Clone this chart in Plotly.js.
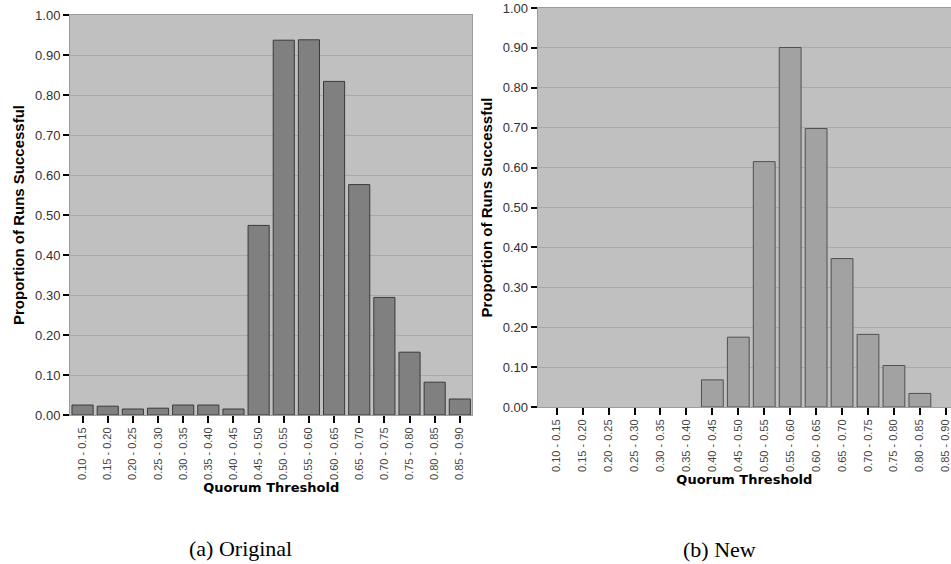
<!DOCTYPE html>
<html>
<head>
<meta charset="utf-8">
<script src="https://cdn.plot.ly/plotly-3.0.1.min.js"></script>
<style>html,body{margin:0;padding:0;background:#fff;}#chart{width:951px;height:564px;}</style>
</head>
<body>
<div id="chart"></div>
<script>
// Data
const categories = ["0.10 - 0.15","0.15 - 0.20","0.20 - 0.25","0.25 - 0.30","0.30 - 0.35","0.35 - 0.40","0.40 - 0.45","0.45 - 0.50","0.50 - 0.55","0.55 - 0.60","0.60 - 0.65","0.65 - 0.70","0.70 - 0.75","0.75 - 0.80","0.80 - 0.85","0.85 - 0.90"];
const originalValues = [0.025,0.022,0.015,0.017,0.025,0.025,0.015,0.474,0.937,0.938,0.834,0.576,0.294,0.157,0.082,0.040];
const newValues = [0,0,0,0,0,0,0.068,0.175,0.615,0.901,0.698,0.372,0.182,0.104,0.034,0];
const yTickVals = [0,0.1,0.2,0.3,0.4,0.5,0.6,0.7,0.8,0.9,1.0];
const yTickText = ["0.00","0.10","0.20","0.30","0.40","0.50","0.60","0.70","0.80","0.90","1.00"];
const yTitle = "Proportion of Runs Successful";
const xTitle = "Quorum Threshold";
const captions = ["(a) Original", "(b) New"];

const W = 951, H = 564;
// zero-height bars get no outline (none drawn in the reference)
const outlineWidths = vals => vals.map(v => v > 0 ? 1 : 0);
const traces = [
  {type:'bar', x:categories, y:originalValues, xaxis:'x', yaxis:'y',
   marker:{color:'#808080', line:{color:'#3a3a3a', width:outlineWidths(originalValues)}}, hoverinfo:'x+y'},
  {type:'bar', x:categories, y:newValues, xaxis:'x2', yaxis:'y2',
   marker:{color:'#a2a2a2', line:{color:'#505050', width:outlineWidths(newValues)}}, hoverinfo:'x+y'}
];

function xAxis(domain, range, anchor) {
  return {
    domain: domain, type:'category', range: range, anchor: anchor,
    tickangle: -90, ticks:'outside', ticklen:7, tickwidth:2, tickcolor:'#000',
    tickfont:{family:'Liberation Sans, Arial, sans-serif', size:11, color:'#444'},
    showgrid:false, showline:true, linecolor:'#9c9c9c', linewidth:1, mirror:true,
    zeroline:false, automargin:false,
    title:{text:xTitle, font:{family:'DejaVu Sans, Verdana, sans-serif', size:13, color:'#000', weight:'bold'}, standoff:3}
  };
}
function yAxis(domain, anchor) {
  return {
    domain: domain, range:[0,1], tickvals:yTickVals, ticktext:yTickText, anchor: anchor,
    ticks:'outside', ticklen:6, tickwidth:2, tickcolor:'#000',
    tickfont:{family:'Liberation Sans, Arial, sans-serif', size:13, color:'#333'},
    showgrid:true, gridcolor:'#a9a9a9', gridwidth:1,
    showline:true, linecolor:'#9c9c9c', linewidth:1, mirror:true,
    zeroline:false, automargin:false,
    title:{text:yTitle, font:{family:'Liberation Sans, Arial, sans-serif', size:15, color:'#000', weight:'bold'}, standoff:6}
  };
}

const layout = {
  width:W, height:H, margin:{l:0,r:0,t:0,b:0},
  paper_bgcolor:'#ffffff', plot_bgcolor:'#c0c0c0',
  showlegend:false, bargap:0.16,
  xaxis: xAxis([70/W, 472.4/W], [-0.5, 15.5], 'y'),
  yaxis: yAxis([(H-415)/H, (H-15)/H], 'x'),
  xaxis2: xAxis([537.7/W, 1], [-0.733, 15.2], 'y2'),
  yaxis2: yAxis([(H-407)/H, (H-8)/H], 'x2'),
  annotations: [
    {text:captions[0], xref:'paper', yref:'paper', x:240/W, y:(H-548)/H, xanchor:'center', yanchor:'middle', showarrow:false,
     font:{family:'Liberation Serif, Times New Roman, serif', size:22, color:'#000'}},
    {text:captions[1], xref:'paper', yref:'paper', x:719/W, y:(H-549)/H, xanchor:'center', yanchor:'middle', showarrow:false,
     font:{family:'Liberation Serif, Times New Roman, serif', size:22, color:'#000'}}
  ]
};

Plotly.newPlot('chart', traces, layout, {displayModeBar:false, staticPlot:true});
</script>
</body>
</html>
